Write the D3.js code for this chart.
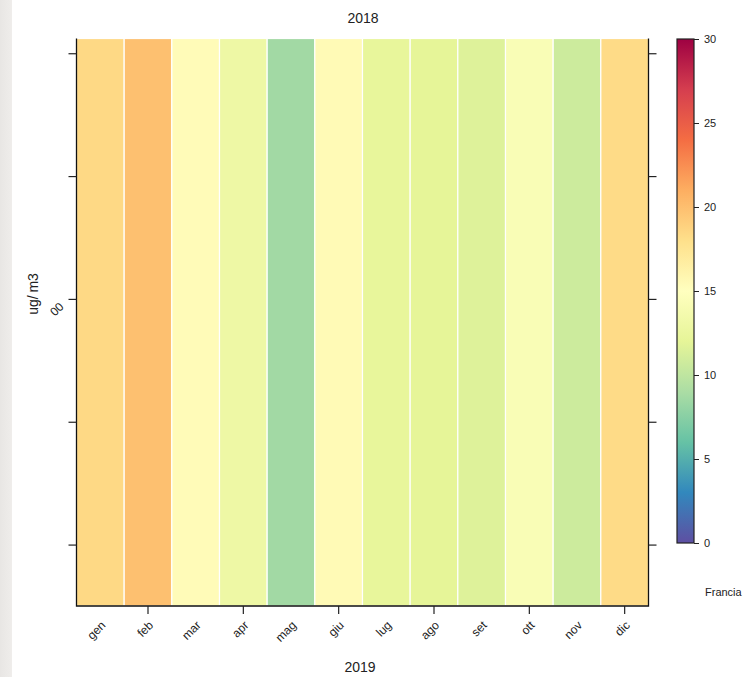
<!DOCTYPE html>
<html>
<head>
<meta charset="utf-8">
<script src="https://cdn.jsdelivr.net/npm/d3@7"></script>
<style>
html,body{margin:0;padding:0;background:#fff;}
svg text{font-family:"Liberation Sans",Arial,Helvetica,sans-serif;fill:#222;}
</style>
</head>
<body>
<svg id="chart" width="755" height="677"></svg>
<script>
// ---- data ----
const months = ["gen","feb","mar","apr","mag","giu","lug","ago","set","ott","nov","dic"];
const values = [18.4, 19.9, 15.4, 13.0, 8.6, 15.5, 12.2, 12.0, 11.6, 14.3, 10.7, 18.3];
const xTickMonths = ["feb","apr","giu","ago","ott","dic"];
const yTicks = [-2, -1, 0, 1, 2];
const yTickLabels = ["", "", "00", "", ""];
const colorTicks = [0, 5, 10, 15, 20, 25, 30];
const spectral = ["#5e4fa2","#3288bd","#66c2a5","#abdda4","#e6f598","#ffffbf","#fee08b","#fdae61","#f46d43","#d53e4f","#9e0142"];
const titleTop = "2018", titleBottom = "2019", yLabel = "ug/\u2009m3", legendLabel = "Francia";

// ---- layout ----
const svg = d3.select("#chart");
const L = 76.5, R = 648.5, T = 38.5, B = 606;

// left grey strip (screenshot edge)
const grad0 = svg.append("defs").append("linearGradient").attr("id","strip");
grad0.append("stop").attr("offset","0%").attr("stop-color","#e8e6e4");
grad0.append("stop").attr("offset","100%").attr("stop-color","#efedeb");
svg.append("rect").attr("x",0).attr("y",0).attr("width",12).attr("height",677).attr("fill","url(#strip)");

const x = d3.scaleBand().domain(months).range([L, R]).padding(0);
const y = d3.scaleLinear().domain([-2.5, 2.12]).range([B, T]);
const color = d3.scaleLinear()
  .domain(d3.range(spectral.length).map(i => i * 30 / (spectral.length - 1)))
  .range(spectral).interpolate(d3.interpolateRgb).clamp(true);

// cells
svg.append("g").selectAll("rect").data(months).join("rect")
  .attr("x", d => x(d))
  .attr("y", T)
  .attr("width", x.bandwidth())
  .attr("height", B - T)
  .attr("fill", (d, i) => color(values[i]))
  .attr("stroke", "#fff").attr("stroke-width", 1.2);

// panel lines (left, right, bottom)
svg.append("path")
  .attr("d", `M${L},${T}V${B}H${R}V${T}`)
  .attr("fill","none").attr("stroke","#111").attr("stroke-width",1.3);

// left axis
const yAxis = d3.axisLeft(y).tickValues(yTicks).tickSize(8).tickFormat((d,i) => yTickLabels[i]);
const gy = svg.append("g").attr("transform", `translate(${L},0)`).call(yAxis);
gy.select(".domain").remove();
gy.selectAll(".tick line").attr("stroke","#222").attr("stroke-width",1.2);
gy.selectAll(".tick text")
  .attr("font-size", 12).attr("x", 0).attr("dy", 0)
  .attr("text-anchor","end")
  .attr("transform", "translate(-12,8) rotate(-45)");

// right axis ticks
const gr = svg.append("g").attr("transform", `translate(${R},0)`)
  .call(d3.axisRight(y).tickValues(yTicks).tickSize(8).tickFormat(""));
gr.select(".domain").remove();
gr.selectAll(".tick line").attr("stroke","#222").attr("stroke-width",1.2);

// bottom axis
const gx = svg.append("g").attr("transform", `translate(0,${B})`)
  .call(d3.axisBottom(x).tickValues(xTickMonths).tickSize(8).tickFormat(""));
gx.select(".domain").remove();
gx.selectAll(".tick line").attr("stroke","#222").attr("stroke-width",1.2);

// bottom labels (all months, rotated)
svg.append("g").selectAll("text").data(months).join("text")
  .attr("transform", d => `translate(${x(d) + x.bandwidth()/2 + 6},${B + 20}) rotate(-45)`)
  .attr("text-anchor","end")
  .attr("font-size", 12)
  .text(d => d);

// titles
svg.append("text").attr("x", 363).attr("y", 23).attr("text-anchor","middle").attr("font-size", 14).text(titleTop);
svg.append("text").attr("x", 360).attr("y", 672).attr("text-anchor","middle").attr("font-size", 14).text(titleBottom);
svg.append("text").attr("transform","translate(38,294) rotate(-90)").attr("text-anchor","middle").attr("font-size", 14).text(yLabel);

// colorbar
const cbX = 677, cbW = 17, cbT = 39, cbB = 543;
const cy = d3.scaleLinear().domain([0, 30]).range([cbB, cbT]);
const defs = svg.select("defs");
const lg = defs.append("linearGradient").attr("id","cb").attr("x1",0).attr("y1",1).attr("x2",0).attr("y2",0);
spectral.forEach((c, i) => lg.append("stop").attr("offset", (i/(spectral.length-1)*100) + "%").attr("stop-color", c));
svg.append("rect").attr("x", cbX).attr("y", cbT).attr("width", cbW).attr("height", cbB - cbT)
  .attr("fill","url(#cb)").attr("stroke","#222").attr("stroke-width",1.2);
const gc = svg.append("g").attr("transform", `translate(${cbX + cbW},0)`)
  .call(d3.axisRight(cy).tickValues(colorTicks).tickSize(5).tickPadding(5));
gc.select(".domain").remove();
gc.selectAll(".tick line").attr("stroke","#222");
gc.selectAll(".tick text").attr("font-size", 11).attr("fill","#222");

svg.append("text").attr("x", 705).attr("y", 596).attr("font-size", 11).text(legendLabel);
</script>
</body>
</html>
